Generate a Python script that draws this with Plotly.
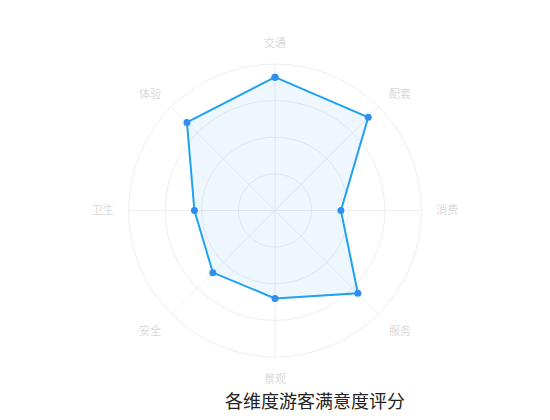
import plotly.graph_objects as go

# 各维度评分（满分100）
dimensions = ["交通", "配套", "消费", "服务", "景观", "安全", "卫生", "体验"]
scores = [91, 90, 45, 80, 60, 60, 55, 85]
title_text = "各维度游客满意度评分"

fig = go.Figure()
fig.add_trace(go.Scatterpolar(
    r=scores + scores[:1],
    theta=dimensions + dimensions[:1],
    mode="lines+markers",
    fill="toself",
    fillcolor="rgba(33,150,243,0.08)",
    line=dict(color="#1fa2f0", width=2),
    marker=dict(color="#2f8ff0", size=7),
    hoverinfo="r+theta",
))

fig.update_layout(
    width=550, height=420,
    margin=dict(l=0, r=0, t=0, b=0),
    paper_bgcolor="white",
    showlegend=False,
    font=dict(family="Noto Sans CJK SC, sans-serif"),
    polar=dict(
        domain=dict(x=[0.2191, 0.7518], y=[0.1691, 0.8667]),
        bgcolor="white",
        angularaxis=dict(
            rotation=90, direction="clockwise",
            linecolor="#eeeeee", gridcolor="#eeeeee",
            ticks="outside", ticklen=12, tickcolor="rgba(0,0,0,0)",
            tickfont=dict(size=11, color="#d9d9d9"),
        ),
        radialaxis=dict(
            range=[0, 100], dtick=25,
            showticklabels=False, ticks="",
            showline=False, gridcolor="#eeeeee",
        ),
    ),
    annotations=[dict(
        text=title_text, x=0.558, y=0.0667, xref="paper", yref="paper",
        xanchor="center", yanchor="middle",
        showarrow=False, font=dict(size=18, color="#222222"),
    )],
)

fig.write_html("out.html")
